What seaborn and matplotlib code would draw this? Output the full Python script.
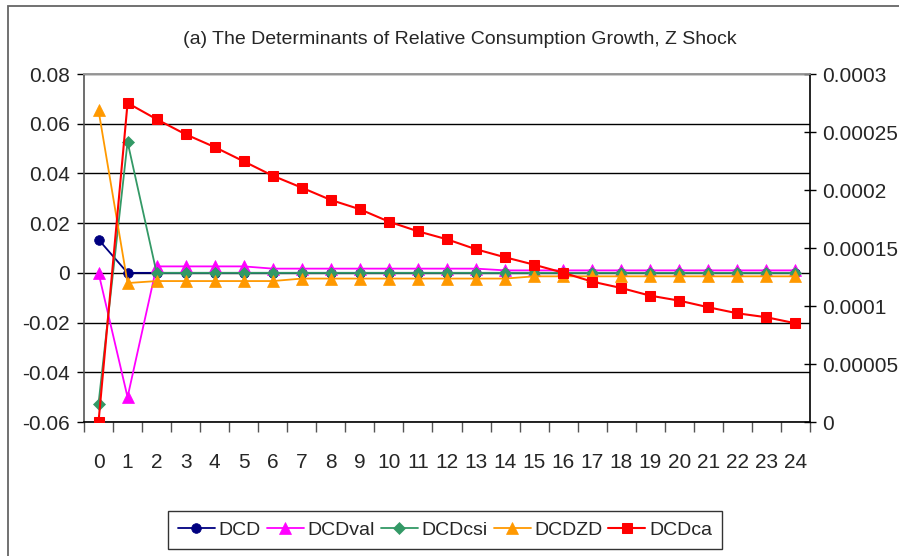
import matplotlib
matplotlib.use("Agg")
import matplotlib.pyplot as plt
import seaborn as sns
import numpy as np
import pandas as pd
from matplotlib.patches import Rectangle
from matplotlib.ticker import FixedLocator

periods = list(range(25))
DCD = [0.0134] + [0.0] * 24
DCDval = [0.0, -0.05] + [0.0026] * 4 + [0.0017] * 8 + [0.0010] * 11
DCDcsi = [-0.0526, 0.0527] + [0.0] * 23
DCDZD = [0.0654, -0.0041] + [-0.0033] * 5 + [-0.0023] * 8 + [-0.0014] * 10
DCDca = [0.0, 0.000275, 0.000261, 0.000248, 0.000237, 0.0002247, 0.0002123,
         0.000202, 0.0001914, 0.0001834, 0.0001727, 0.0001644, 0.0001575,
         0.0001489, 0.000142, 0.0001356, 0.0001287, 0.000121, 0.0001155,
         0.0001089, 0.0001046, 0.0000989, 0.0000937, 0.0000903, 0.0000851]

left_ticks = [-0.06, -0.04, -0.02, 0, 0.02, 0.04, 0.06, 0.08]
left_labels = ["-0.06", "-0.04", "-0.02", "0", "0.02", "0.04", "0.06", "0.08"]
right_ticks = [0, 0.00005, 0.0001, 0.00015, 0.0002, 0.00025, 0.0003]
right_labels = ["0", "0.00005", "0.0001", "0.00015", "0.0002", "0.00025", "0.0003"]

sns.set_style("white")
plt.rcParams['font.family'] = ['Liberation Sans', 'DejaVu Sans']

fig = plt.figure(figsize=(8.99, 5.56), dpi=100)
ax = fig.add_axes([84/899, 1-422/556, (810-84)/899, (422-74)/556])
ax2 = ax.twinx()

df = pd.DataFrame({"t": periods, "DCD": DCD, "DCDval": DCDval, "DCDcsi": DCDcsi,
                   "DCDZD": DCDZD, "DCDca": DCDca})

styles = [("DCD", "#000080", "o", 7), ("DCDval", "#FF00FF", "^", 8),
          ("DCDcsi", "#339966", "D", 6), ("DCDZD", "#FF9900", "^", 8)]
for name, col, mk, ms in styles:
    sns.lineplot(data=df, x="t", y=name, ax=ax, color=col, marker=mk, markersize=ms,
                 markeredgecolor=col, markeredgewidth=0.5, linewidth=1.3, label=name, legend=False)
sns.lineplot(data=df, x="t", y="DCDca", ax=ax2, color="#FF0000", marker="s", markersize=7.5,
             markeredgecolor="#FF0000", linewidth=1.5, label="DCDca", legend=False)

ax.set_xlim(-0.5, 24.5)
ax.set_ylim(-0.06, 0.08)
ax2.set_ylim(0, 0.0003)
ax.set_yticks(left_ticks)
ax.set_yticklabels(left_labels)
ax2.set_yticks(right_ticks)
ax2.set_yticklabels(right_labels)
ax.set_xticks(periods)
ax.set_xticklabels([str(p) for p in periods])
ax.xaxis.set_minor_locator(FixedLocator(np.arange(-0.5, 25, 1)))

ax.grid(True, axis="y", color="black", linewidth=1.0)
ax.grid(False, axis="x")
ax.set_axisbelow(True)
ax.set_xlabel("")
ax.set_ylabel("")
ax2.set_ylabel("")

fs = 15
ax.tick_params(axis="y", which="major", direction="out", length=5, width=1, color="black",
               labelsize=fs, pad=5, left=True)
ax.tick_params(axis="x", which="major", length=0, labelsize=fs, pad=22, bottom=True)
ax.tick_params(axis="x", which="minor", direction="out", length=7, width=1, color="#555555", bottom=True)
ax2.tick_params(axis="y", which="major", direction="inout", length=8, width=1, color="black",
                labelsize=fs, pad=5, right=True)

ax.spines["left"].set_color("#555555")
ax.spines["bottom"].set_color("black")
ax.spines["top"].set_color("#999999")
ax.spines["right"].set_visible(False)
ax2.spines["right"].set_color("black")
ax2.spines["left"].set_visible(False)
ax2.spines["top"].set_color("#999999")
ax2.spines["bottom"].set_visible(False)
for s in list(ax.spines.values()) + list(ax2.spines.values()):
    s.set_linewidth(1.2)

fig.text(460/899, 1-40/556, "(a) The Determinants of Relative Consumption Growth, Z Shock",
         ha="center", va="center", fontsize=14)

h1, l1 = ax.get_legend_handles_labels()
h2, l2 = ax2.get_legend_handles_labels()
leg = fig.legend(h1 + h2, l1 + l2, loc="center", bbox_to_anchor=(445/899, 1-530/556), ncol=5,
                 frameon=True, fancybox=False, edgecolor="black", fontsize=14,
                 handlelength=1.9, handletextpad=0.2, columnspacing=0.3, borderpad=0.5,
                 borderaxespad=0)
leg.get_frame().set_linewidth(1.0)

fig.patches.append(Rectangle((8/899, -0.05), 1.0, 1.05 - 6/556, transform=fig.transFigure,
                             fill=False, edgecolor="#666666", linewidth=1.3))

fig.savefig("out.png", dpi=100)
